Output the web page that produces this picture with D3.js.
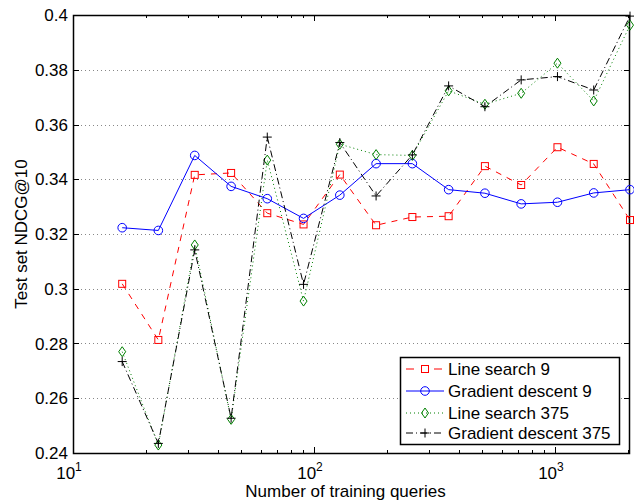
<!DOCTYPE html>
<html>
<head>
<meta charset="utf-8">
<script src="https://cdn.jsdelivr.net/npm/d3@7"></script>
<style>
  body { margin: 0; background: #fff; }
  text { font-family: "Liberation Sans", Arial, sans-serif; }
</style>
</head>
<body>
<script>
var margin = {top: 15, right: 4, bottom: 49, left: 73};
var width = 634 - margin.left - margin.right;
var height = 502 - margin.top - margin.bottom;

// training set sizes
var queries = [16, 22.6, 32, 45.3, 64, 90.5, 128, 181, 256, 362, 512, 724, 1024, 1448, 2048];

// NDCG@10 per method
var lineSearch9 = [0.3018, 0.2813, 0.3416, 0.3423, 0.3276, 0.3235, 0.3417, 0.3232, 0.3262, 0.3265, 0.3448, 0.3379, 0.3517, 0.3456, 0.3251];
var gradDescent9 = [0.3223, 0.3213, 0.3487, 0.3374, 0.3329, 0.3257, 0.3342, 0.3457, 0.3457, 0.3362, 0.3349, 0.3310, 0.3316, 0.3350, 0.3362];
var lineSearch375 = [0.2770, 0.2429, 0.3160, 0.2523, 0.3470, 0.2955, 0.3528, 0.3490, 0.3487, 0.3723, 0.3674, 0.3714, 0.3824, 0.3686, 0.3963];
var gradDescent375 = [0.2734, 0.2435, 0.3142, 0.2527, 0.3554, 0.3016, 0.3534, 0.3339, 0.3489, 0.3741, 0.3665, 0.3763, 0.3775, 0.3726, 0.3996];

var yTicks = [0.24, 0.26, 0.28, 0.3, 0.32, 0.34, 0.36, 0.38, 0.4];
var yTickLabels = ["0.24", "0.26", "0.28", "0.3", "0.32", "0.34", "0.36", "0.38", "0.4"];
var xTicks = [10, 100, 1000];
var xTickExps = ["1", "2", "3"];

var series = [
    {name: "Line search 9", values: lineSearch9, color: "#ff0000", dash: "6,6", marker: "square"},
    {name: "Gradient descent 9", values: gradDescent9, color: "#0000ff", dash: null, marker: "circle"},
    {name: "Line search 375", values: lineSearch375, color: "#008000", dash: "1,3", marker: "diamond"},
    {name: "Gradient descent 375", values: gradDescent375, color: "#000000", dash: "7,3,1,3", marker: "plus"}
];

var fs = 17;

var svg = d3.select("body").append("svg")
    .attr("width", width + margin.left + margin.right)
    .attr("height", height + margin.top + margin.bottom);

var g = svg.append("g")
    .attr("transform", "translate(" + margin.left + "," + margin.top + ")");

var x = d3.scaleLog().domain([10, 2048]).range([0, width]);
var y = d3.scaleLinear().domain([0.24, 0.4]).range([height, 0]);

//horizontal dotted grid
g.selectAll(".grid")
    .data(yTicks.slice(1, -1))
    .enter()
    .append("line")
    .attr("x1", 0)
    .attr("x2", width)
    .attr("y1", function (d) { return Math.round(y(d)) + 0.5; })
    .attr("y2", function (d) { return Math.round(y(d)) + 0.5; })
    .attr("stroke", "#888")
    .attr("stroke-width", 1)
    .attr("stroke-dasharray", "1,3");

//minor x ticks for log scale
var minor = [];
for (var dec = 10; dec <= 1000; dec *= 10) {
    for (var k = 2; k <= 9; k++) {
        if (dec * k <= 2048) minor.push(dec * k);
    }
}

function tickLines(vals, len, cls) {
    // bottom and top, pointing inwards
    g.selectAll("." + cls + "b").data(vals).enter().append("line")
        .attr("x1", function (d) { return Math.round(x(d)) + 0.5; })
        .attr("x2", function (d) { return Math.round(x(d)) + 0.5; })
        .attr("y1", height).attr("y2", height - len)
        .attr("stroke", "#000");
    g.selectAll("." + cls + "t").data(vals).enter().append("line")
        .attr("x1", function (d) { return Math.round(x(d)) + 0.5; })
        .attr("x2", function (d) { return Math.round(x(d)) + 0.5; })
        .attr("y1", 0).attr("y2", len)
        .attr("stroke", "#000");
}
tickLines(minor, 3, "minor");
tickLines(xTicks, 6, "major");

//y ticks on both sides
g.selectAll(".ytl").data(yTicks).enter().append("line")
    .attr("x1", 0).attr("x2", 6)
    .attr("y1", function (d) { return Math.round(y(d)) + 0.5; })
    .attr("y2", function (d) { return Math.round(y(d)) + 0.5; })
    .attr("stroke", "#000");
g.selectAll(".ytr").data(yTicks).enter().append("line")
    .attr("x1", width).attr("x2", width - 6)
    .attr("y1", function (d) { return Math.round(y(d)) + 0.5; })
    .attr("y2", function (d) { return Math.round(y(d)) + 0.5; })
    .attr("stroke", "#000");

//frame
g.append("rect")
    .attr("x", 0.5).attr("y", 0.5)
    .attr("width", width - 1).attr("height", height)
    .attr("fill", "none")
    .attr("stroke", "#000")
    .attr("stroke-width", 1.5);

//y tick labels
g.selectAll(".ylab").data(yTicks).enter().append("text")
    .attr("x", -5)
    .attr("y", function (d) { return y(d); })
    .attr("dy", "0.36em")
    .attr("text-anchor", "end")
    .attr("font-size", fs)
    .text(function (d, i) { return yTickLabels[i]; });

//x tick labels 10^n
var xl = g.selectAll(".xlab").data(xTicks).enter().append("text")
    .attr("x", function (d) { return x(d) - 4; })
    .attr("y", height + 26)
    .attr("text-anchor", "middle")
    .attr("font-size", fs);
xl.append("tspan").text("10");
xl.append("tspan")
    .attr("font-size", 12)
    .attr("dy", -8)
    .text(function (d, i) { return xTickExps[i]; });

//axis titles
svg.append("text")
    .attr("x", margin.left + width / 2 - 6)
    .attr("y", 497)
    .attr("text-anchor", "middle")
    .attr("font-size", fs)
    .text("Number of training queries");

svg.append("text")
    .attr("transform", "translate(27," + (margin.top + height / 2) + ") rotate(-90)")
    .attr("text-anchor", "middle")
    .attr("font-size", fs)
    .text("Test set NDCG@10");

//draw markers
function drawMarker(sel, type, color) {
    if (type === "square") {
        sel.append("rect").attr("x", -3.5).attr("y", -3.5).attr("width", 7).attr("height", 7)
            .attr("fill", "none").attr("stroke", color);
    } else if (type === "circle") {
        sel.append("circle").attr("r", 4.3)
            .attr("fill", "none").attr("stroke", color);
    } else if (type === "diamond") {
        sel.append("path").attr("d", "M0,-5L3.5,0L0,5L-3.5,0Z")
            .attr("fill", "none").attr("stroke", color);
    } else if (type === "plus") {
        sel.append("path").attr("d", "M-4.5,0H4.5M0,-4.5V4.5")
            .attr("fill", "none").attr("stroke", color);
    }
}

var line = d3.line()
    .x(function (d, i) { return x(queries[i]); })
    .y(function (d) { return y(d); });

var plot = g.append("g");

series.forEach(function (s) {
    plot.append("path")
        .datum(s.values)
        .attr("d", line)
        .attr("fill", "none")
        .attr("stroke", s.color)
        .attr("stroke-width", 1)
        .attr("stroke-dasharray", s.dash);

    plot.selectAll(".m" + s.marker)
        .data(s.values)
        .enter()
        .append("g")
        .attr("class", "m" + s.marker)
        .attr("transform", function (d, i) { return "translate(" + x(queries[i]) + "," + y(d) + ")"; })
        .each(function () { drawMarker(d3.select(this), s.marker, s.color); });
});

//legend
var legend = svg.append("g").attr("transform", "translate(400,357)");
legend.append("rect")
    .attr("x", 0.5).attr("y", 0.5)
    .attr("width", 219).attr("height", 87)
    .attr("fill", "#fff")
    .attr("stroke", "#000")
    .attr("stroke-width", 1.5);

var rowY = [12, 34, 56, 76];
series.forEach(function (s, i) {
    var row = legend.append("g").attr("transform", "translate(0," + rowY[i] + ")");
    row.append("line")
        .attr("x1", 6).attr("x2", 44)
        .attr("y1", 0).attr("y2", 0)
        .attr("stroke", s.color)
        .attr("stroke-dasharray", s.dash ? (s.marker === "square" ? "8,20" : s.dash) : null);
    var m = row.append("g").attr("transform", "translate(25,0)");
    drawMarker(m, s.marker, s.color);
    row.append("text")
        .attr("x", 48)
        .attr("y", 0)
        .attr("dy", "0.36em")
        .attr("font-size", fs)
        .text(s.name);
});
</script>
</body>
</html>
